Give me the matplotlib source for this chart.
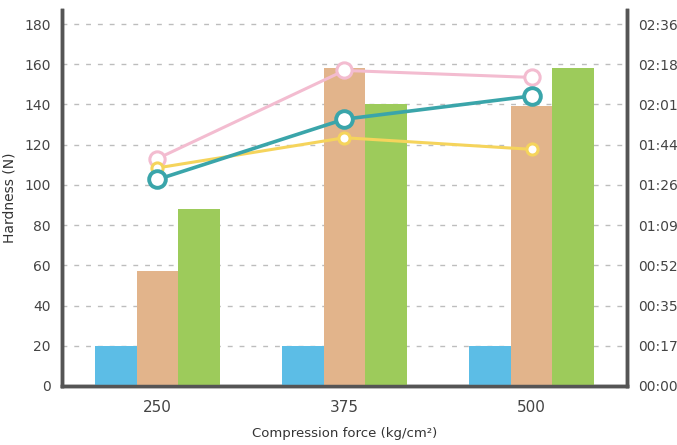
import numpy as np
import matplotlib.pyplot as plt

# compression force groups
forces = ["250", "375", "500"]

# hardness bars (N)
hard_blue = [20, 20, 20]
hard_tan = [57, 158, 139]
hard_green = [88, 140, 158]

# times on right axis (seconds)
time_pink = [98, 136, 133]
time_teal = [89, 115, 125]
time_yellow = [94, 107, 102]

left_ticks = [0, 20, 40, 60, 80, 100, 120, 140, 160, 180]
right_labels = ["00:00", "00:17", "00:35", "00:52", "01:09", "01:26",
                "01:44", "02:01", "02:18", "02:36"]
t_max = 156

fig = plt.figure(figsize=(6.77, 4.45), dpi=100)
ax = fig.add_axes([0.0916, 0.1326, 0.8344, 0.845])

x = np.arange(len(forces))
w = 0.222
ax.bar(x - w, hard_blue, w, color="#5cbde6", zorder=3)
ax.bar(x, hard_tan, w, color="#e2b48b", zorder=3)
ax.bar(x + w, hard_green, w, color="#9dcb5b", zorder=3)

ymax = 187
ax.set_ylim(0, ymax)
ax.set_xlim(-0.51, 2.51)
ax.set_yticks(left_ticks)
ax.set_xticks(x)
ax.set_xticklabels(forces)
for v in left_ticks[1:]:
    ax.axhline(v, color="#bdbdbd", lw=1.0, ls=(0, (3.5, 5)), zorder=1)

ax2 = ax.twinx()
ax2.set_ylim(0, ymax * t_max / 180)
ax2.set_yticks([v * t_max / 180 for v in left_ticks])
ax2.set_yticklabels(right_labels)

ax2.plot(x, time_pink, color="#f3bcd0", lw=2.2, marker="o", ms=11,
         mfc="white", mec="#f3bcd0", mew=2.2, zorder=3)
ax2.plot(x, time_yellow, color="#f5d45c", lw=2.2, marker="o", ms=8,
         mfc="white", mec="#f5d45c", mew=2.2, zorder=3)
ax2.plot(x, time_teal, color="#3aa5aa", lw=2.6, marker="o", ms=12,
         mfc="white", mec="#3aa5aa", mew=2.8, zorder=4)

for a in (ax, ax2):
    a.spines["top"].set_visible(False)
    a.spines["left"].set_linewidth(2.5)
    a.spines["right"].set_linewidth(2.5)
    a.spines["bottom"].set_linewidth(2.5)
    for s in ("left", "right", "bottom"):
        a.spines[s].set_color("#555555")
    a.tick_params(length=0, labelsize=10, colors="#444444", pad=8)

ax.tick_params(axis="x", labelsize=11, pad=10)
ax.set_ylabel("Hardness (N)", fontsize=10, color="#333333", labelpad=6)
ax.set_xlabel("Compression force (kg/cm²)", fontsize=9.5, color="#333333",
              labelpad=9)

fig.savefig("out.png", dpi=100)
